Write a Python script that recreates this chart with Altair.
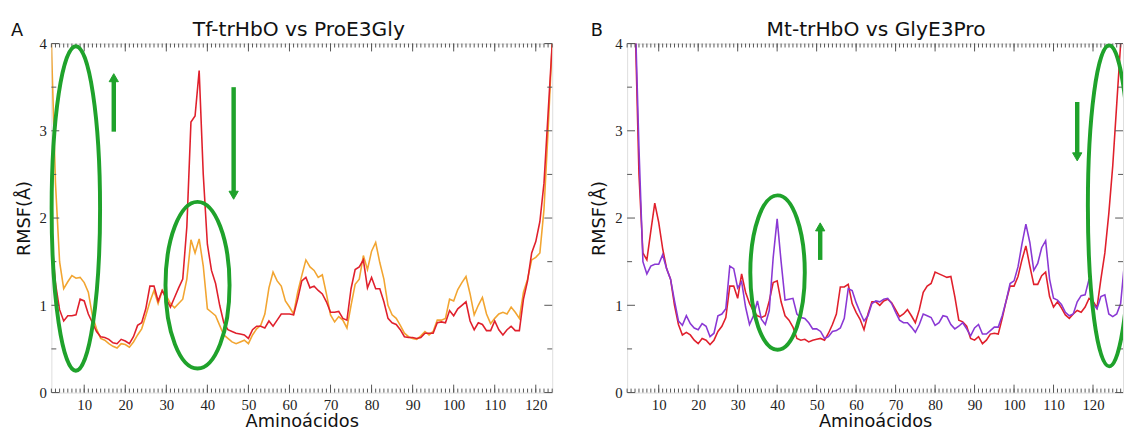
import altair as alt
import pandas as pd

# ---------------- data ----------------
res_A = list(range(2, 125))
tf_trhbo = [
    1.8, 1.25, 0.95, 0.82, 0.88, 0.88, 0.89, 1.07, 1.05, 0.9,
    0.8, 0.7, 0.64, 0.63, 0.61, 0.57, 0.56, 0.61, 0.59, 0.56,
    0.64, 0.77, 0.8, 0.96, 1.22, 1.22, 1.05, 1.17, 1.07, 0.98,
    1.09, 1.2, 1.3, 1.9, 3.1, 3.17, 3.69, 2.5, 1.7, 1.4,
    1.25, 1.0, 0.8, 0.72, 0.7, 0.68, 0.67, 0.66, 0.62, 0.72,
    0.76, 0.76, 0.74, 0.82, 0.76, 0.83, 0.9, 0.9, 0.9, 0.89,
    1.07, 1.28, 1.32, 1.2, 1.22, 1.17, 1.13, 1.04, 0.92, 0.92,
    0.93, 0.85, 0.83, 1.19, 1.41, 1.44, 1.52, 1.2, 1.32, 1.19,
    1.19, 1.04, 0.85, 0.8, 0.78, 0.72, 0.64, 0.63, 0.63, 0.62,
    0.63, 0.68, 0.68, 0.68, 0.8, 0.81, 0.8, 0.94, 0.88, 0.96,
    1.0, 1.04, 0.82, 0.72, 0.8, 0.78, 0.71, 0.71, 0.82, 0.72,
    0.66, 0.72, 0.76, 0.71, 0.71, 1.07, 1.28, 1.6, 1.73, 1.96,
    2.4, 3.2, 4.0,
]
pro_e3gly = [
    4.0, 2.4, 1.5, 1.19, 1.27, 1.34, 1.31, 1.32, 1.26, 1.15,
    0.88, 0.73, 0.62, 0.6, 0.56, 0.53, 0.51, 0.56, 0.55, 0.52,
    0.58, 0.66, 0.73, 0.88, 1.04, 1.17, 1.02, 1.17, 1.11, 1.02,
    0.97, 1.02, 1.07, 1.3, 1.75, 1.6, 1.76, 1.45, 0.96, 0.92,
    0.88, 0.77, 0.66, 0.62, 0.58, 0.56, 0.58, 0.6, 0.56, 0.66,
    0.73, 0.77, 0.9, 1.2, 1.38, 1.28, 1.22, 1.05, 0.98, 0.9,
    1.15, 1.34, 1.52, 1.44, 1.4, 1.32, 1.35, 1.13, 0.89, 0.81,
    0.87, 0.83, 0.74, 1.0, 1.24, 1.3, 1.57, 1.41, 1.62, 1.72,
    1.49, 1.3, 1.0, 0.89, 0.85, 0.77, 0.68, 0.64, 0.62, 0.61,
    0.65, 0.7, 0.66, 0.7, 0.83, 0.83, 0.85, 1.07, 1.05, 1.18,
    1.26, 1.33, 1.13, 0.89, 1.0, 1.09, 0.9, 0.79, 0.85, 0.9,
    0.92, 0.9, 0.98, 0.92, 0.85, 1.15, 1.3, 1.52, 1.55, 1.6,
    2.1, 3.0, 4.0,
]

res_B = list(range(2, 129))
mt_trhbo = [
    7.0, 5.6, 4.3, 2.5, 1.6, 1.52, 1.85, 2.17, 1.95, 1.65,
    1.42, 1.3, 1.0, 0.78, 0.66, 0.69, 0.66, 0.6, 0.56, 0.62,
    0.6, 0.55, 0.6, 0.7, 0.76, 0.86, 1.22, 1.22, 1.08, 1.36,
    1.15, 1.02, 0.93, 0.88, 0.86, 0.88, 1.05, 1.26, 1.28, 1.04,
    0.88, 0.83, 0.75, 0.62, 0.6, 0.61, 0.58, 0.6, 0.61, 0.62,
    0.6, 0.68, 0.78, 0.9, 1.21, 1.21, 1.24, 1.02, 0.92, 0.84,
    0.72, 0.9, 1.04, 1.04, 1.0, 1.05, 1.07, 1.03, 0.95, 0.87,
    0.9, 0.95, 0.88, 0.8, 0.95, 1.15, 1.22, 1.25, 1.38, 1.36,
    1.34, 1.32, 1.33, 1.1, 0.83, 0.81, 0.76, 0.62, 0.6, 0.64,
    0.56, 0.6, 0.67, 0.68, 0.67, 0.85, 1.05, 1.22, 1.22, 1.33,
    1.52, 1.68, 1.45, 1.24, 1.24, 1.34, 1.38, 1.1, 0.98, 1.04,
    0.97, 0.89, 0.85, 0.9, 0.94, 0.92, 0.98, 1.08, 1.05, 0.97,
    1.3, 1.6, 2.05, 2.6, 3.3, 4.0, 4.7,
]
gly_e3pro = [
    7.2, 5.8, 4.4, 2.8, 1.5, 1.36, 1.45, 1.47, 1.47, 1.58,
    1.42, 1.3, 1.05, 0.82, 0.77, 0.88, 0.79, 0.74, 0.72, 0.79,
    0.76, 0.64, 0.68, 0.88, 0.9, 0.96, 1.45, 1.42, 1.2, 1.27,
    0.98, 0.78, 0.88, 1.05, 0.84, 0.78, 0.94, 1.55, 1.99, 1.5,
    1.06, 1.07, 1.08, 0.9, 0.86, 0.85, 0.8, 0.73, 0.73, 0.7,
    0.62, 0.64, 0.7, 0.71, 0.74, 0.85, 1.19, 1.17, 1.03, 0.92,
    0.82, 0.88, 1.02, 1.05, 1.04, 1.07, 1.08, 1.02, 0.92, 0.83,
    0.8, 0.8, 0.75, 0.69, 0.78, 0.9, 0.88, 0.86, 0.77, 0.8,
    0.88, 0.87, 0.78, 0.73, 0.76, 0.8, 0.73, 0.65, 0.74, 0.78,
    0.67, 0.67, 0.71, 0.75, 0.75, 0.88, 1.05, 1.25, 1.28, 1.44,
    1.7, 1.93, 1.72, 1.4, 1.48, 1.66, 1.74, 1.3, 1.08, 1.06,
    1.01, 0.92, 0.88, 0.9, 1.04, 1.11, 1.12, 1.3, 1.02, 0.96,
    1.1, 1.12, 0.9, 0.87, 0.9, 1.02, 1.5,
]

x_major = [10, 20, 30, 40, 50, 60, 70, 80, 90, 100, 110, 120]
y_major = [0, 1, 2, 3, 4]
y_minor = [0.5, 1.5, 2.5, 3.5]

# annotations (data units): centre residue, centre RMSF, half width (res), half height (Å)
ellipses_A = [(7.96, 2.11, 5.9, 1.86), (37.6, 1.23, 7.8, 0.955)]
ellipses_B = [(40.1, 1.375, 6.9, 0.885), (124.1, 2.14, 5.4, 1.84)]
# arrows: residue, start RMSF, tip RMSF
arrows_A = [(17.2, 2.99, 3.67), (46.4, 3.50, 2.20)]
arrows_B = [(50.9, 1.52, 1.96), (116.0, 3.33, 2.64)]

# ---------------- styling ----------------
H = 354
W_A, W_B = 508, 503
DOM_A, DOM_B = [2, 124], [2, 127.6]
GREEN = "#1fa22b"
FRAME = "#555555"
RED = "#e0202c"
ORANGE = "#f2a531"
PURPLE = "#8a38d4"
SANS = "DejaVu Sans"
SERIF = "Liberation Serif"


def ellipse_path(rx, ry):
    k = 0.5523
    return (f"M0,{-ry} C{k*rx},{-ry} {rx},{-k*ry} {rx},0 "
            f"C{rx},{k*ry} {k*rx},{ry} 0,{ry} "
            f"C{-k*rx},{ry} {-rx},{k*ry} {-rx},0 "
            f"C{-rx},{-k*ry} {-k*rx},{-ry} 0,{-ry} Z")


def panel(letter, letter_x, title, title_dx, res, series, width, xdom, ellipses, arrows, clip_last):
    xs = alt.Scale(domain=xdom, nice=False, zero=False)
    ys = alt.Scale(domain=[0, 4], nice=False)
    xpx = width / (xdom[1] - xdom[0])
    ypx = H / 4.0
    xaxis = alt.Axis(values=x_major, ticks=False, domain=False, grid=False,
                     labelFont=SERIF, labelFontSize=15, labelColor="#222",
                     labelPadding=5, labelFlush=False,
                     title="Aminoácidos", titleFont=SANS, titleFontSize=18,
                     titleFontWeight="normal", titleColor="#111", titlePadding=0)
    yaxis = alt.Axis(values=y_major, ticks=False, domain=False, grid=False,
                     labelFont=SERIF, labelFontSize=15, labelColor="#222",
                     labelPadding=5, labelFlush=False,
                     title="RMSF(Å)", titleFont=SANS, titleFontSize=18,
                     titleFontWeight="normal", titleColor="#111", titlePadding=6)
    X = alt.X("res:Q", scale=xs, axis=xaxis)
    Y = alt.Y("rmsf:Q", scale=ys, axis=yaxis)

    layers = []
    for vals, color in series:
        df = pd.DataFrame({"res": res, "rmsf": vals})
        layers.append(alt.Chart(df).mark_line(color=color, strokeWidth=1.6, clip=True)
                      .encode(x=X, y=Y))

    # inward ticks (xmgrace style)
    minor_x = pd.DataFrame({"res": list(range(int(xdom[0]), int(xdom[1]) + 1))})
    major_x = pd.DataFrame({"res": x_major})
    for d, ln in ((minor_x, 4), (major_x, 8)):
        layers.append(alt.Chart(d).mark_rule(color=FRAME, strokeWidth=1)
                      .encode(x=X, y=alt.value(H), y2=alt.value(H - ln)))
        layers.append(alt.Chart(d).mark_rule(color=FRAME, strokeWidth=1)
                      .encode(x=X, y=alt.value(0), y2=alt.value(ln)))
    major_y = pd.DataFrame({"rmsf": y_major})
    minor_y = pd.DataFrame({"rmsf": y_minor})
    for d, ln in ((minor_y, 5), (major_y, 8)):
        layers.append(alt.Chart(d).mark_rule(color=FRAME, strokeWidth=1)
                      .encode(y=Y, x=alt.value(0), x2=alt.value(ln)))
        layers.append(alt.Chart(d).mark_rule(color=FRAME, strokeWidth=1)
                      .encode(y=Y, x=alt.value(width), x2=alt.value(width - ln)))

    # green ellipses
    for i, (cx, cy, rxu, ryu) in enumerate(ellipses):
        rxp, ryp = rxu * xpx, ryu * ypx
        m = max(rxp, ryp)
        path = ellipse_path(rxp / m, ryp / m)
        clip = clip_last and i == len(ellipses) - 1
        d = pd.DataFrame({"res": [cx], "rmsf": [cy]})
        layers.append(alt.Chart(d).mark_point(shape=path, size=(2 * m) ** 2, filled=False,
                                              stroke=GREEN, strokeWidth=4, opacity=1,
                                              clip=clip)
                      .encode(x=X, y=Y))

    # green arrows
    r = 4.7
    tip_off = 1.155 * r / ypx
    for (ax, y0, y1) in arrows:
        up = y1 > y0
        cy = y1 - tip_off if up else y1 + tip_off
        d = pd.DataFrame({"res": [ax], "rmsf": [y0], "rmsf2": [cy]})
        layers.append(alt.Chart(d).mark_rule(color=GREEN, strokeWidth=4.5)
                      .encode(x=X, y=Y, y2="rmsf2:Q"))
        d2 = pd.DataFrame({"res": [ax], "rmsf": [cy]})
        layers.append(alt.Chart(d2).mark_point(shape="triangle-up" if up else "triangle-down",
                                               size=(2 * r) ** 2, filled=True, fill=GREEN,
                                               stroke=GREEN, strokeWidth=1, opacity=1)
                      .encode(x=X, y=Y))

    # panel letter and title
    lab = pd.DataFrame({"t": [letter]})
    layers.append(alt.Chart(lab).mark_text(font=SANS, fontSize=18, color="#111",
                                           align="left", baseline="alphabetic")
                  .encode(x=alt.value(letter_x), y=alt.value(-8), text="t:N"))
    ttl = pd.DataFrame({"t": [title]})
    layers.append(alt.Chart(ttl).mark_text(font=SANS, fontSize=20.5, color="#111",
                                           align="center", baseline="alphabetic")
                  .encode(x=alt.value(width / 2 + title_dx), y=alt.value(-8), text="t:N"))

    return alt.layer(*layers).properties(width=width, height=H)


pA = panel("A", -41, "Tf-trHbO vs ProE3Gly", -3, res_A,
           [(pro_e3gly, ORANGE), (tf_trhbo, RED)], W_A, DOM_A, ellipses_A, arrows_A, False)
pB = panel("B", -37, "Mt-trHbO vs GlyE3Pro", 1, res_B,
           [(mt_trhbo, RED), (gly_e3pro, PURPLE)], W_B, DOM_B, ellipses_B, arrows_B, True)

chart = (alt.hconcat(pA, pB, spacing=37)
         .properties(padding={"left": 2, "top": 8, "right": 0, "bottom": 0})
         .configure_view(stroke=FRAME, strokeWidth=1.2)
         .configure(background="white"))

chart.save("out.html", embed_options={"renderer": "svg", "actions": False})
